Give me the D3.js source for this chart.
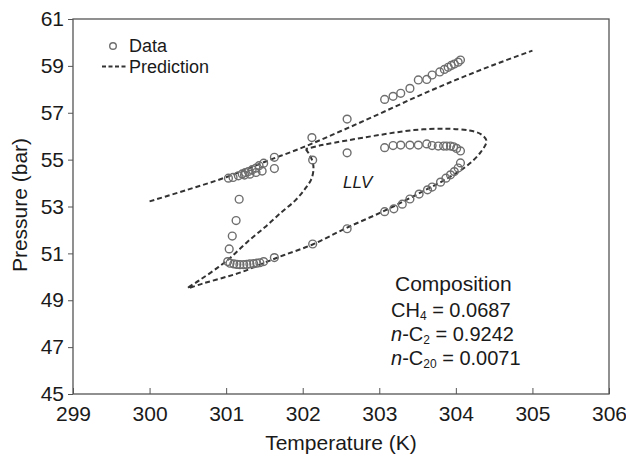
<!DOCTYPE html>
<html>
<head>
<meta charset="utf-8">
<script src="https://cdn.jsdelivr.net/npm/d3@7"></script>
<style>
  html, body { margin: 0; padding: 0; background: #fff; }
  svg { display: block; font-family: "Liberation Sans", Arial, Helvetica, sans-serif; }
</style>
</head>
<body>
<svg id="chart" width="626" height="456"></svg>
<script>
// Measured phase-boundary points, [T (K), P (bar)]
const upperBranch = [
  [301.03,54.21],[301.09,54.24],[301.16,54.31],[301.21,54.39],[301.25,54.45],[301.29,54.49],
  [301.34,54.57],[301.39,54.64],[301.43,54.74],[301.49,54.85],[301.24,54.34],[301.31,54.38],
  [301.39,54.45],[301.47,54.51],[301.63,55.10],[302.12,55.94],[302.58,56.73],[303.07,57.57],
  [303.18,57.70],[303.28,57.83],[303.40,58.04],[303.51,58.40],[303.62,58.42],[303.69,58.61],
  [303.79,58.74],[303.85,58.85],[303.90,58.94],[303.94,59.02],[303.98,59.08],[304.03,59.16],
  [304.06,59.25]
];
const middleBranch = [
  [301.63,54.62],[302.13,54.98],[302.58,55.29],[303.07,55.51],[303.18,55.60],[303.28,55.62],
  [303.40,55.62],[303.51,55.62],[303.62,55.67],[303.69,55.60],[303.77,55.58],[303.84,55.58],
  [303.88,55.58],[303.93,55.58],[303.97,55.55],[304.01,55.48],[304.06,55.37]
];
const verticalBranch = [
  [301.17,53.31],[301.13,52.40],[301.08,51.74],[301.04,51.19]
];
const lowerBranch = [
  [301.02,50.65],[301.05,50.58],[301.10,50.55],[301.14,50.53],[301.18,50.52],[301.23,50.52],
  [301.27,50.53],[301.31,50.55],[301.36,50.56],[301.40,50.58],[301.44,50.60],[301.49,50.65],
  [301.63,50.82],[302.13,51.40],[302.58,52.05],[303.07,52.78],[303.19,52.90],[303.30,53.10],
  [303.40,53.32],[303.52,53.53],[303.63,53.71],[303.69,53.83],[303.80,54.04],[303.87,54.21],
  [303.93,54.35],[303.98,54.49],[304.03,54.64],[304.06,54.86]
];

// Model predictions: bubble-point line and the LLV three-phase loop
const predLine = [
  [300.0,53.22],[300.5,53.72],[301.0,54.25],[301.5,54.90],[302.0,55.52],[302.5,56.22],
  [303.0,56.95],[303.5,57.70],[304.0,58.40],[304.5,59.05],[305.0,59.65]
];
const predLoop = [
  [302.04,55.45],[302.09,55.20],[302.13,54.90],[302.14,54.55],[302.11,54.15],[302.03,53.75],
  [301.90,53.25],[301.72,52.75],[301.50,52.10],[301.28,51.50],[301.05,50.80],[300.85,50.30],
  [300.65,49.85],[300.50,49.52],
  [300.70,49.72],[300.95,49.95],[301.20,50.20],[301.50,50.60],[301.75,50.92],[302.13,51.38],
  [302.58,52.10],[303.07,52.82],[303.53,53.58],[303.90,54.22],[304.15,54.75],[304.32,55.30],
  [304.40,55.80],
  [304.33,56.08],[304.18,56.24],[303.88,56.32],[303.45,56.26],[303.00,56.05],[302.58,55.82],
  [302.25,55.62],[302.04,55.45]
];

const xTicks = [299, 300, 301, 302, 303, 304, 305, 306];
const yTicks = [45, 47, 49, 51, 53, 55, 57, 59, 61];
const compositionLines = [
  { species: "CH", sub: "4", prefix: "", value: "0.0687" },
  { species: "C", sub: "2", prefix: "n", value: "0.9242" },
  { species: "C", sub: "20", prefix: "n", value: "0.0071" }
];

const svg = d3.select("#chart");
const frame = { left: 73, right: 609, top: 19, bottom: 394 };

const x = d3.scaleLinear().domain([299, 306]).range([frame.left, frame.right]);
const y = d3.scaleLinear().domain([45, 61]).range([frame.bottom, frame.top]);

const axisColor = "#555";
const markColor = "#6e6e6e";
const lineColor = "#333";
const textColor = "#1a1a1a";

// Axes
const xAxis = svg.append("g")
  .attr("transform", `translate(0,${frame.bottom})`)
  .call(d3.axisBottom(x).tickValues(xTicks).tickFormat(d3.format("d"))
    .tickSizeInner(-6).tickSizeOuter(0).tickPadding(12));
const yAxis = svg.append("g")
  .attr("transform", `translate(${frame.left},0)`)
  .call(d3.axisLeft(y).tickValues(yTicks).tickFormat(d3.format("d"))
    .tickSizeInner(5).tickSizeOuter(0).tickPadding(4));

[xAxis, yAxis].forEach(g => {
  g.select(".domain").remove();
  g.selectAll(".tick line").attr("stroke", axisColor).attr("stroke-width", 1);
  g.selectAll(".tick text").attr("fill", textColor).attr("font-size", 21)
    .attr("font-family", "Liberation Sans, Arial, sans-serif");
});

// Plot frame
svg.append("rect")
  .attr("x", frame.left).attr("y", frame.top)
  .attr("width", frame.right - frame.left).attr("height", frame.bottom - frame.top)
  .attr("fill", "none").attr("stroke", axisColor).attr("stroke-width", 1.3);

// Axis titles
svg.append("text")
  .attr("x", (frame.left + frame.right) / 2).attr("y", 450)
  .attr("text-anchor", "middle").attr("font-size", 21).attr("fill", textColor)
  .text("Temperature (K)");
svg.append("text")
  .attr("transform", `translate(27,205) rotate(-90)`)
  .attr("text-anchor", "middle").attr("font-size", 21).attr("fill", textColor)
  .text("Pressure (bar)");

// Prediction curves
const line = d3.line().x(d => x(d[0])).y(d => y(d[1])).curve(d3.curveCatmullRom.alpha(0.5));
[predLine, predLoop].forEach(series => {
  svg.append("path")
    .attr("d", line(series))
    .attr("fill", "none").attr("stroke", lineColor)
    .attr("stroke-width", 2).attr("stroke-dasharray", "5,3");
});

// Experimental points
const allData = [].concat(upperBranch, middleBranch, verticalBranch, lowerBranch);
svg.append("g").selectAll("circle")
  .data(allData).join("circle")
  .attr("cx", d => x(d[0])).attr("cy", d => y(d[1])).attr("r", 3.9)
  .attr("fill", "none").attr("stroke", markColor).attr("stroke-width", 1.4);

// Legend
const legend = svg.append("g");
legend.append("circle").attr("cx", 113).attr("cy", 46).attr("r", 3.3)
  .attr("fill", "none").attr("stroke", markColor).attr("stroke-width", 1.4);
legend.append("text").attr("x", 129).attr("y", 52).attr("font-size", 18).attr("fill", textColor).text("Data");
legend.append("line").attr("x1", 102).attr("x2", 127).attr("y1", 66.5).attr("y2", 66.5)
  .attr("stroke", lineColor).attr("stroke-width", 2).attr("stroke-dasharray", "4,2.5");
legend.append("text").attr("x", 129).attr("y", 73).attr("font-size", 18).attr("fill", textColor).text("Prediction");

// Region label
svg.append("text").attr("x", 343).attr("y", 188).attr("font-size", 17)
  .attr("font-style", "italic").attr("fill", textColor).text("LLV");

// Composition note
svg.append("text").attr("x", 395).attr("y", 291).attr("font-size", 21).attr("fill", textColor).text("Composition");
const baselines = [316.5, 340.5, 364.5];
compositionLines.forEach((c, i) => {
  const t = svg.append("text").attr("x", 391).attr("y", baselines[i])
    .attr("font-size", 20).attr("fill", textColor);
  if (c.prefix) {
    t.append("tspan").attr("font-style", "italic").text(c.prefix);
    t.append("tspan").text("-");
  }
  t.append("tspan").text(c.species);
  t.append("tspan").attr("font-size", 12).attr("dy", 3).text(c.sub);
  t.append("tspan").attr("dy", -3).text(" = " + c.value);
});
</script>
</body>
</html>
